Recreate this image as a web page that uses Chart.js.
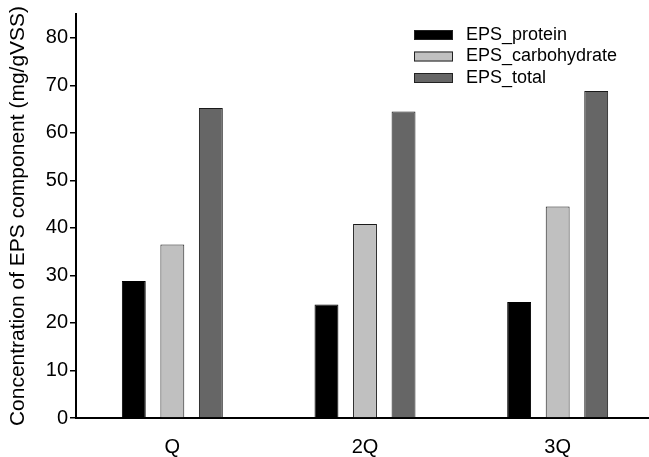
<!DOCTYPE html>
<html>
<head>
<meta charset="utf-8">
<script src="https://cdn.jsdelivr.net/npm/chart.js@4.4.0/dist/chart.umd.min.js"></script>
<style>
  html, body { margin: 0; padding: 0; background: #fff; overflow: hidden; }
  #wrap { width: 649px; height: 457px; overflow: hidden; }
</style>
</head>
<body>
<div id="wrap"><canvas id="epsChart" width="654" height="457"></canvas></div>
<script>
const categories = ['Q', '2Q', '3Q'];
const proteinValues = [28.8, 23.9, 24.4];
const carbohydrateValues = [36.5, 40.8, 44.5];
const totalValues = [65.2, 64.5, 68.8];
const yTicks = [0, 10, 20, 30, 40, 50, 60, 70, 80];

const FONT = "'Liberation Sans', Arial, Helvetica, sans-serif";

// legend drawn inside the plot, top right
const insideLegend = {
    id: 'insideLegend',
    afterDraw(chart) {
        const ctx = chart.ctx;
        ctx.save();
        ctx.font = '18px ' + FONT;
        ctx.textBaseline = 'middle';
        ctx.textAlign = 'left';
        chart.data.datasets.forEach(function (ds, i) {
            const y = 35 + i * 21.5;
            ctx.fillStyle = ds.backgroundColor;
            ctx.fillRect(414, y - 5, 39, 10);
            ctx.strokeStyle = '#222';
            ctx.lineWidth = 1;
            ctx.strokeRect(414.5, y - 4.5, 38, 9);
            ctx.fillStyle = '#000';
            ctx.fillText(ds.label, 466, y);
        });
        ctx.restore();
    }
};

const ctx = document.getElementById('epsChart').getContext('2d');
new Chart(ctx, {
    type: 'bar',
    data: {
        labels: categories,
        datasets: [{
            label: 'EPS_protein',
            data: proteinValues,
            backgroundColor: '#000000',
            borderColor: '#000000',
            borderWidth: 1
        }, {
            label: 'EPS_carbohydrate',
            data: carbohydrateValues,
            backgroundColor: '#c0c0c0',
            borderColor: '#1a1a1a',
            borderWidth: 1
        }, {
            label: 'EPS_total',
            data: totalValues,
            backgroundColor: '#666666',
            borderColor: '#1a1a1a',
            borderWidth: 1
        }]
    },
    options: {
        responsive: false,
        animation: false,
        categoryPercentage: 0.6,
        barPercentage: 0.62,
        layout: { padding: { top: 14, left: 0, right: 0, bottom: 0 } },
        plugins: {
            legend: { display: false },
            tooltip: { enabled: false }
        },
        scales: {
            x: {
                grid: { display: false, drawTicks: false },
                border: { display: true, color: '#000', width: 2 },
                ticks: {
                    color: '#000',
                    font: { family: FONT, size: 20 },
                    padding: 17
                },
                afterFit(scale) { scale.height = 39; }
            },
            y: {
                min: 0,
                max: 85,
                grid: {
                    drawOnChartArea: false,
                    drawTicks: true,
                    tickLength: 6,
                    color: '#000',
                    lineWidth: 1.5
                },
                border: { display: true, color: '#000', width: 2 },
                afterBuildTicks(scale) {
                    scale.ticks = yTicks.map(v => ({ value: v }));
                },
                ticks: {
                    color: '#000',
                    font: { family: FONT, size: 20 },
                    padding: 2
                },
                title: {
                    display: true,
                    text: 'Concentration of EPS component (mg/gVSS)',
                    color: '#000',
                    font: { family: FONT, size: 21 },
                    padding: { top: 6, bottom: 0 }
                },
                afterFit(scale) { scale.width = 76; }
            }
        }
    },
    plugins: [insideLegend]
});
</script>
</body>
</html>
